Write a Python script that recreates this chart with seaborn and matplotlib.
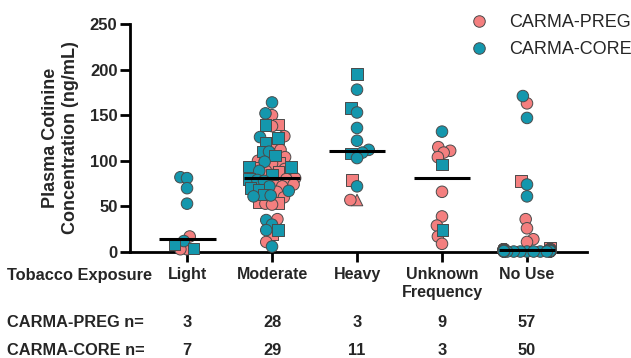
import pandas as pd
import matplotlib
matplotlib.use("Agg")
import matplotlib.pyplot as plt
import matplotlib.transforms as mtransforms
from matplotlib.lines import Line2D
from matplotlib.markers import MarkerStyle
import seaborn as sns

# ---------------------------------------------------------
# Data (plasma cotinine, ng/mL)
# sample type codes: a = circle, b = square, c = triangle
# ---------------------------------------------------------
categories = ["Light", "Moderate", "Heavy", "Unknown\nFrequency", "No Use"]
cohorts = ["CARMA-PREG", "CARMA-CORE"]

light_preg = [17, 3, 3]
light_preg_type = "aaa"
light_core = [82, 81, 70, 53, 12, 8, 4]
light_core_type = "aaaaabb"

moderate_preg = [150, 140, 138, 127, 120, 112, 104, 100, 98, 97, 92, 91, 89, 88,
                 81, 80, 76, 74, 72, 66, 60, 55, 54, 53, 52, 36, 19, 11]
moderate_preg_type = "abaab" + "aaaba" + "baaba" + "aaaaa" + "abbaa" + "aba"
moderate_core = [164, 152, 139, 126, 125, 120, 110, 110, 106, 99, 94, 93, 89, 85,
                 80, 79, 78, 72, 70, 68, 67, 63, 62, 61, 35, 30, 24, 24, 6]
moderate_core_type = "aabab" + "bbaba" + "bbabb" + "aaabb" + "abaaa" + "aaba"

heavy_preg = [79, 57, 57]
heavy_preg_type = "bca"
heavy_core = [195, 178, 158, 153, 136, 122, 112, 109, 108, 103, 72]
heavy_core_type = "babaaaaabaa"

unknown_preg = [115, 111, 109, 104, 66, 39, 29, 17, 9]
unknown_preg_type = "aaaaaaaaa"
unknown_core = [132, 96, 24]
unknown_core_type = "abb"

nouse_preg = [163, 78, 36, 26, 14, 11, 5,
              2, 3, 2.5, 2, 3, 2, 2.5, 2, 3, 2.5, 2, 2, 3, 2.5, 2, 3, 2, 2.5, 3, 2,
              2, 3, 2.5, 2, 3, 2, 2.5, 3, 2, 2, 2.5, 3, 2, 2, 3, 2.5, 2, 3, 2, 2.5,
              2, 3, 2, 2.5, 3, 2, 2, 3, 2.5, 2]
nouse_preg_type = "abaaaab" + "a" * 50
nouse_core = [171, 147, 74, 61,
              1, 0.5, 1.5, 1, 0.5, 1, 1.5, 1, 0.5, 1, 1.5, 1, 1, 0.5, 1.5, 1, 1, 0.5, 1.5, 1,
              1, 0.5, 1, 1.5, 1, 0.5, 1, 1.5, 1, 1, 0.5, 1, 1.5, 1, 0.5, 1, 1, 1.5, 0.5, 1,
              1, 0.5, 1.5, 1, 1, 0.5]
nouse_core_type = "a" * 50

preg_groups = [light_preg, moderate_preg, heavy_preg, unknown_preg, nouse_preg]
preg_types = [light_preg_type, moderate_preg_type, heavy_preg_type, unknown_preg_type, nouse_preg_type]
core_groups = [light_core, moderate_core, heavy_core, unknown_core, nouse_core]
core_types = [light_core_type, moderate_core_type, heavy_core_type, unknown_core_type, nouse_core_type]

rows = []
for cohort, groups, types in [("CARMA-PREG", preg_groups, preg_types),
                              ("CARMA-CORE", core_groups, core_types)]:
    for cat, vals, tps in zip(categories, groups, types):
        assert len(vals) == len(tps), (cohort, cat)
        for v, t in zip(vals, tps):
            rows.append({"grupo": cat, "cohorte": cohort, "valor": v, "tipo": t})
df = pd.DataFrame(rows)

palette = {"CARMA-PREG": "#F47F7F", "CARMA-CORE": "#1497AD"}
markers = {"a": "o", "b": "s", "c": "^"}
edge = "#4a4a4a"

# ---------------------------------------------------------
# Figure
# ---------------------------------------------------------
sns.set_style("ticks")
plt.rcParams["font.family"] = ["Liberation Sans", "DejaVu Sans"]

fig = plt.figure(figsize=(6.31, 3.58), dpi=100)
ax = fig.add_axes([130 / 631, 106 / 358, 457 / 631, 228 / 358])

sns.swarmplot(data=df, x="grupo", y="valor", hue="cohorte", order=categories,
              hue_order=cohorts, palette=palette, size=6, edgecolor=edge,
              linewidth=0.7, legend=False, ax=ax)
swarms = list(ax.collections)

sns.boxplot(data=df, x="grupo", y="valor", order=categories, width=0.67,
            showbox=False, showcaps=False, showfliers=False,
            whiskerprops={"visible": False},
            medianprops={"color": "black", "linewidth": 2.2, "zorder": 5},
            ax=ax)

ax.set_xlim(-0.671, 4.706)
ax.set_ylim(0, 250)
ax.set_yticks(range(0, 251, 50))
fig.canvas.draw()

# freeze the swarm positions, narrow them a bit, enlarge markers, apply shapes
for i, (coll, cat) in enumerate(zip(swarms, categories)):
    if "draw" in coll.__dict__:
        del coll.draw
    offs = coll.get_offsets().copy()
    offs[:, 0] = i + (offs[:, 0] - i) * 0.68
    coll.set_offsets(offs)
    tipos = df.loc[df["grupo"] == cat, "tipo"].tolist()
    paths = []
    for t in tipos:
        ms = MarkerStyle(markers[t])
        paths.append(ms.get_path().transformed(ms.get_transform()))
    coll.set_paths(paths)
    coll.set_sizes([8.3 ** 2])
    coll.set_clip_on(False)
    coll.set_zorder(3)

for s in ["top", "right"]:
    ax.spines[s].set_visible(False)
for s in ["left", "bottom"]:
    ax.spines[s].set_linewidth(2)
    ax.spines[s].set_color("black")
ax.tick_params(axis="both", length=7, width=2, color="black")
ax.tick_params(axis="y", labelsize=12, pad=2)
ax.tick_params(axis="x", labelsize=11.5, pad=4)
for lab in ax.get_yticklabels() + ax.get_xticklabels():
    lab.set_fontweight("bold")
ax.set_xlabel("")
ax.set_ylabel("Plasma Cotinine\nConcentration (ng/mL)", fontsize=13,
              fontweight="bold", labelpad=8)

# row labels under the axis
fs = 11.8
fig.text(7 / 631, 1 - 280 / 358, "Tobacco Exposure", fontsize=fs, fontweight="bold")
fig.text(7 / 631, 1 - 327 / 358, "CARMA-PREG n=", fontsize=fs, fontweight="bold")
fig.text(7 / 631, 1 - 355 / 358, "CARMA-CORE n=", fontsize=fs, fontweight="bold")
conteos = df.groupby(["cohorte", "grupo"], sort=False).size()
trans = mtransforms.blended_transform_factory(ax.transData, fig.transFigure)
for i, cat in enumerate(categories):
    fig.text(i, 1 - 327 / 358, str(conteos[("CARMA-PREG", cat)]), transform=trans,
             ha="center", fontsize=fs, fontweight="bold")
    fig.text(i, 1 - 355 / 358, str(conteos[("CARMA-CORE", cat)]), transform=trans,
             ha="center", fontsize=fs, fontweight="bold")

handles = [Line2D([], [], ls="", marker="o", markersize=8.3, markerfacecolor=palette[c],
                  markeredgecolor=edge, markeredgewidth=0.7) for c in cohorts]
fig.legend(handles, cohorts, loc="upper left", bbox_to_anchor=(472.7 / 631, 1 - 14 / 358),
           frameon=False, fontsize=13, handlelength=0.7, handletextpad=1.3,
           labelspacing=0.55, borderpad=0, borderaxespad=0)

plt.savefig("out.png", dpi=100)
plt.close()
